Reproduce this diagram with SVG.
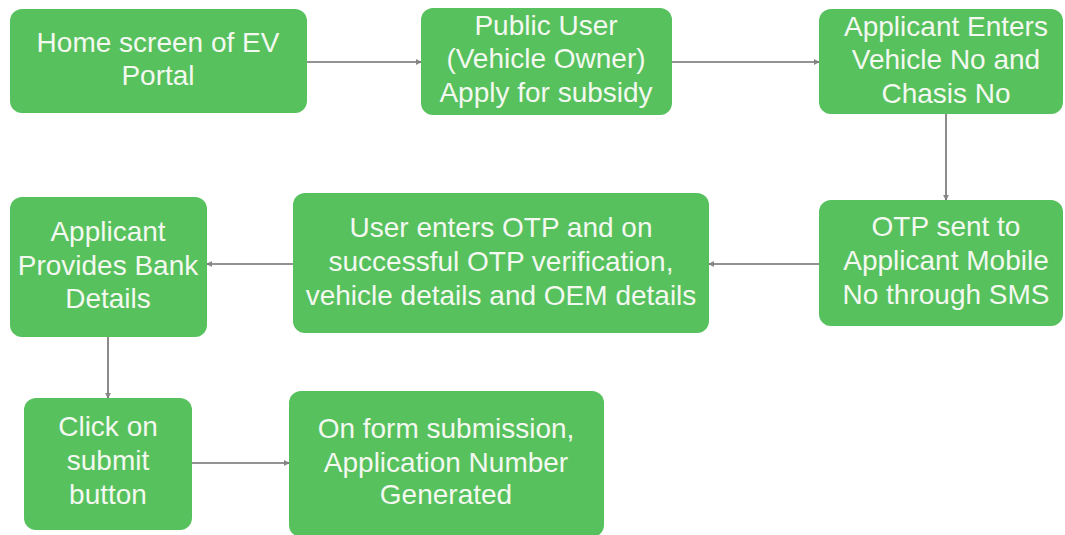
<svg xmlns="http://www.w3.org/2000/svg" width="1065" height="535" viewBox="0 0 1065 535">
<style>
.box{fill:#57c15d;}
.t{font-family:"Liberation Sans",Arial,sans-serif;font-size:28px;fill:#f3f8f0;text-anchor:middle;}
.c{stroke:#6f6f6f;stroke-width:1.6;fill:none;marker-end:url(#ah);}
</style>
<defs>
<marker id="ah" viewBox="0 0 10 10" refX="9" refY="5" markerWidth="6" markerHeight="6" orient="auto" markerUnits="userSpaceOnUse">
<path d="M1,1 L9,5 L1,9 Z" fill="#8a8a8a" stroke="#6f6f6f" stroke-width="1"/>
</marker>
</defs>
<rect width="1065" height="535" fill="#ffffff"/>
<g id="connectors">
<path class="c" d="M307,62 H421"/>
<path class="c" d="M672,62 H819"/>
<path class="c" d="M946,114 V200"/>
<path class="c" d="M819,264 H709"/>
<path class="c" d="M293,264 H207"/>
<path class="c" d="M108,337 V398"/>
<path class="c" d="M192,463 H289"/>
</g>
<g id="home">
<rect class="box" x="10" y="9" width="297" height="104" rx="12"/>
<text class="t" x="158" y="52">Home screen of EV</text>
<text class="t" x="158" y="85">Portal</text>
</g>
<g id="public-user">
<rect class="box" x="421" y="8" width="251" height="107" rx="12"/>
<text class="t" x="546" y="35">Public User</text>
<text class="t" x="546" y="68">(Vehicle Owner)</text>
<text class="t" x="546" y="102">Apply for subsidy</text>
</g>
<g id="applicant-enters">
<rect class="box" x="819" y="9" width="244" height="105" rx="12"/>
<text class="t" x="946" y="36">Applicant Enters</text>
<text class="t" x="946" y="69">Vehicle No and</text>
<text class="t" x="946" y="103">Chasis No</text>
</g>
<g id="otp-sent">
<rect class="box" x="819" y="200" width="244" height="126" rx="12"/>
<text class="t" x="946" y="236">OTP sent to</text>
<text class="t" x="946" y="270">Applicant Mobile</text>
<text class="t" x="946" y="304">No through SMS</text>
</g>
<g id="user-enters-otp">
<rect class="box" x="293" y="193" width="416" height="140" rx="12"/>
<text class="t" x="501" y="237">User enters OTP and on</text>
<text class="t" x="501" y="271">successful OTP verification,</text>
<text class="t" x="501" y="305">vehicle details and OEM details</text>
</g>
<g id="bank-details">
<rect class="box" x="10" y="197" width="197" height="140" rx="12"/>
<text class="t" x="108" y="241">Applicant</text>
<text class="t" x="108" y="275">Provides Bank</text>
<text class="t" x="108" y="308">Details</text>
</g>
<g id="submit">
<rect class="box" x="24" y="398" width="168" height="132" rx="12"/>
<text class="t" x="108" y="436">Click on</text>
<text class="t" x="108" y="470">submit</text>
<text class="t" x="108" y="504">button</text>
</g>
<g id="application-number">
<rect class="box" x="289" y="391" width="315" height="146" rx="12"/>
<text class="t" x="446" y="438">On form submission,</text>
<text class="t" x="446" y="472">Application Number</text>
<text class="t" x="446" y="504">Generated</text>
</g>
</svg>
